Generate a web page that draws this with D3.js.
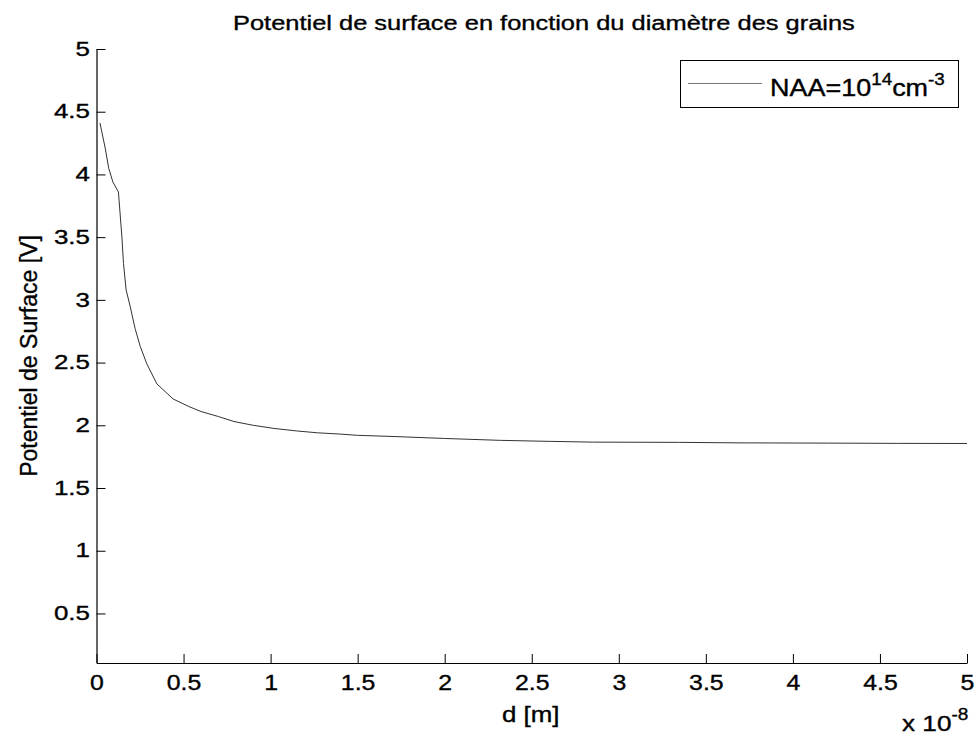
<!DOCTYPE html>
<html><head><meta charset="utf-8">
<script src="https://cdn.jsdelivr.net/npm/d3@7"></script>
<style>body{margin:0;background:#fff}svg{display:block}text{font-family:"Liberation Sans",Arial,sans-serif;fill:#000}</style>
</head><body><svg id="c" width="975" height="734"></svg>
<script>
// d in units of 1e-8 m
const dValues = [0.02,0.05,0.07,0.094,0.126,0.146,0.155,0.17,0.193,0.222,0.251,0.289,0.347,0.44,0.53,0.6,0.7,0.79,0.9,1.02,1.15,1.27,1.4,1.5,1.72,2.0,2.32,2.6,2.85,3.35,3.69,4.2,4.6,5.0];
const potValues = [4.41,4.21,4.05,3.94,3.86,3.50,3.29,3.08,2.95,2.77,2.63,2.49,2.33,2.21,2.15,2.11,2.07,2.03,2.0,1.975,1.955,1.94,1.93,1.92,1.91,1.895,1.88,1.872,1.866,1.864,1.86,1.858,1.856,1.855];
const xTicks = [0,0.5,1,1.5,2,2.5,3,3.5,4,4.5,5];
const yTicks = [0.5,1,1.5,2,2.5,3,3.5,4,4.5,5];
const titleText = "Potentiel de surface en fonction du diamètre des grains";
const xLabel = "d [m]";
const yLabel = "Potentiel de Surface [V]";

const svg = d3.select("#c");
const L=96.5, R=967, T=49, B=663;
const x = d3.scaleLinear().domain([0,5]).range([L,R]);
const y = d3.scaleLinear().domain([0.105,5]).range([B,T]);
const heavy = s => s.attr("stroke","#000").attr("stroke-width",0.35);

const xa = svg.append("g").attr("transform",`translate(0,${B})`)
  .call(d3.axisBottom(x).tickValues(xTicks).tickSize(-9).tickSizeOuter(0).tickPadding(11.5).tickFormat(d=>String(d)));
const ya = svg.append("g").attr("transform",`translate(${L},0)`)
  .call(d3.axisLeft(y).tickValues(yTicks).tickSize(-9).tickSizeOuter(0).tickPadding(6.5).tickFormat(d=>String(d)));
[xa,ya].forEach(a=>{
  a.selectAll("path").attr("stroke","#000").attr("stroke-width",1.2);
  a.selectAll("line").attr("stroke","#000").attr("stroke-width",1);
  a.selectAll("text").attr("font-family","Liberation Sans, Arial, sans-serif").attr("fill","#000").call(heavy);
});
xa.selectAll("text").attr("font-size",22).attr("transform","scale(1.13,1)");
const ysx = 1.33;
ya.selectAll("text").attr("font-size",19.5).attr("x",-6.5/ysx).attr("transform",`scale(${ysx},1)`);

const line = d3.line().x((d,i)=>x(dValues[i])).y(d=>y(d));
svg.append("path").datum(potValues).attr("d",line).attr("fill","none").attr("stroke","#333").attr("stroke-width",1);

// fit helper: stretch text horizontally to a target width, keeping left edge
function fitLeft(sel, left, width){
  const w = sel.node().getBBox().width;
  const s = width / w;
  sel.attr("x", 0).attr("transform", `translate(${left},${sel.attr("data-y")}) scale(${s},1)`).attr("y",0);
}

const t = svg.append("text").attr("data-y",30).attr("font-size",21).text(titleText).call(heavy);
fitLeft(t, 233, 622);
const xl = svg.append("text").attr("data-y",721.5).attr("font-size",21.5).text(xLabel).call(heavy);
fitLeft(xl, 502, 57.5);
svg.append("text").attr("transform","translate(37,356) rotate(-90)").attr("text-anchor","middle").attr("font-size",23).text(yLabel).call(heavy);
const ex = svg.append("text").attr("data-y",730.5).attr("font-size",22).call(heavy);
ex.append("tspan").text("x 10");
ex.append("tspan").attr("dy",-11).attr("font-size",16).text("-8");
fitLeft(ex, 902, 66.5);

// legend
const lg = svg.append("g");
lg.append("rect").attr("x",680.5).attr("y",60.5).attr("width",278).attr("height",47).attr("fill","#fff").attr("stroke","#000").attr("stroke-width",1);
lg.append("line").attr("x1",688).attr("x2",762).attr("y1",83.5).attr("y2",83.5).attr("stroke","#777").attr("stroke-width",1);
const lt = lg.append("text").attr("data-y",95.5).attr("font-size",23).call(heavy);
lt.append("tspan").text("NAA=10");
lt.append("tspan").attr("dy",-11).attr("font-size",16).text("14");
lt.append("tspan").attr("dy",11).text("cm");
lt.append("tspan").attr("dy",-11).attr("font-size",16).text("-3");
fitLeft(lt, 770, 175);
</script></body></html>
